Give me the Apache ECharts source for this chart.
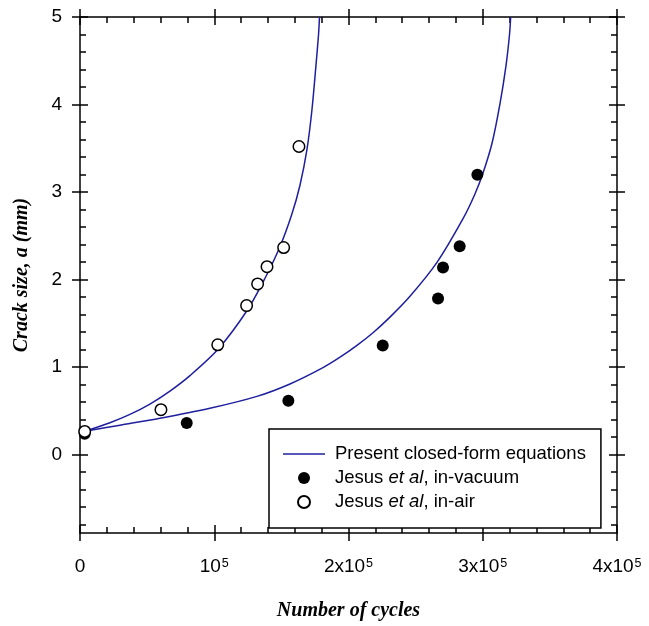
<!DOCTYPE html>
<html>
<head>
<meta charset="utf-8">
<script src="https://cdn.jsdelivr.net/npm/echarts@6/dist/echarts.min.js"></script>
<style>
html,body{margin:0;padding:0;background:#fff;}
#chart{width:649px;height:626px;}
</style>
</head>
<body>
<div id="chart"></div>
<script>
// ---- data ----
const xTicks = [0, 100000, 200000, 300000, 400000];
const xTickLabels = ['0', '10|5', '2x10|5', '3x10|5', '4x10|5'];
const yTicks = [0, 1, 2, 3, 4, 5];
const yTickLabels = ['0', '1', '2', '3', '4', '5'];
const yMinorTicks = [-0.8, -0.6, -0.4, -0.2, 0.2, 0.4, 0.6, 0.8, 1.2, 1.4, 1.6, 1.8,
  2.2, 2.4, 2.6, 2.8, 3.2, 3.4, 3.6, 3.8, 4.2, 4.4, 4.6, 4.8];

// closed-form curve, in-air
const fitAirN = [3700, 22300, 37200, 52100, 67000, 81900, 102600, 124200, 137800, 149000, 157900, 163900, 169100, 172800, 175800, 177650, 178400];
const fitAirA = [0.264, 0.361, 0.456, 0.574, 0.722, 0.899, 1.197, 1.638, 2.013, 2.376, 2.750, 3.079, 3.488, 3.942, 4.453, 4.794, 5.0];
// closed-form curve, in-vacuum
const fitVacN = [3700, 29800, 59600, 96800, 131800, 156400, 181000, 193700, 206300, 218250, 230900, 245800, 265900, 285300, 294200, 300200, 306900, 312850, 317300, 319900, 320800];
const fitVacA = [0.264, 0.333, 0.412, 0.526, 0.662, 0.804, 0.991, 1.110, 1.245, 1.390, 1.568, 1.806, 2.194, 2.694, 2.977, 3.216, 3.556, 4.010, 4.442, 4.794, 5.0];

// Jesus et al, in-vacuum
const vacN = [3500, 79500, 155200, 225500, 266700, 270400, 282800, 296000];
const vacA = [0.234, 0.359, 0.613, 1.244, 1.782, 2.137, 2.379, 3.196];
// Jesus et al, in-air
const airN = [3500, 60300, 102600, 124100, 132300, 139300, 151700, 163100];
const airA = [0.261, 0.510, 1.252, 1.700, 1.948, 2.145, 2.364, 3.519];

const lineName = 'Present closed-form equations';
const vacName = 'Jesus et al, in-vacuum';
const airName = 'Jesus et al, in-air';

// ---- chart ----
const zip = (a, b) => a.map((v, i) => [v, b[i]]);
const sans = '"Liberation Sans", Arial, sans-serif';
const serif = '"Liberation Serif", "Times New Roman", serif';
const black = '#000';
const lineW = 1.5;

function xLabel(v) {
  const i = xTicks.indexOf(v);
  if (i < 0) return '';
  const parts = xTickLabels[i].split('|');
  return parts.length > 1 ? '{n|' + parts[0] + '}{s|' + parts[1] + '}' : '{n|' + parts[0] + '}';
}
function yLabel(v) {
  const i = yTicks.findIndex(t => Math.abs(t - v) < 1e-9);
  return i < 0 ? '' : yTickLabels[i];
}

const xBase = {min: 0, max: 400000, interval: 100000, splitLine: {show: false}, gridIndex: 0};
const yBase = {min: -0.9, max: 5, splitLine: {show: false}, gridIndex: 0};
const lineStyle = {color: black, width: lineW};

const xAxes = [];
['bottom', 'top'].forEach(pos => {
  xAxes.push(Object.assign({}, xBase, {
    type: 'value', position: pos,
    axisLine: {show: true, onZero: false, lineStyle},
    axisTick: {show: true, inside: true, length: 8, lineStyle},
    minorTick: {show: true, splitNumber: 5, length: 6, lineStyle},
    axisLabel: pos === 'bottom' ? {
      show: true, margin: 24, formatter: xLabel,
      rich: {
        n: {fontFamily: sans, fontSize: 19, color: black, lineHeight: 20, verticalAlign: 'top'},
        s: {fontFamily: sans, fontSize: 12.5, color: black, lineHeight: 12, verticalAlign: 'top', padding: [0, 0, 0, 1]}
      }
    } : {show: false},
    name: pos === 'bottom' ? 'Number of cycles' : '',
    nameLocation: 'middle', nameGap: 68,
    nameTextStyle: {fontFamily: serif, fontSize: 20, fontWeight: 'bold', fontStyle: 'italic', color: black}
  }));
  xAxes.push(Object.assign({}, xBase, {
    type: 'value', position: pos,
    axisLine: {show: false, onZero: false},
    axisTick: {show: true, inside: false, length: 8, lineStyle},
    axisLabel: {show: false}
  }));
});

const yAxes = [];
['left', 'right'].forEach(pos => {
  yAxes.push(Object.assign({}, yBase, {
    type: 'value', position: pos,
    axisLine: {show: true, onZero: false, lineStyle},
    axisTick: {show: true, inside: true, length: 8, lineStyle, customValues: yTicks},
    axisLabel: pos === 'left' ? {
      show: true, margin: 18, customValues: yTicks, formatter: yLabel,
      fontFamily: sans, fontSize: 19, color: black
    } : {show: false},
    name: pos === 'left' ? 'Crack size, a (mm)' : '',
    nameLocation: 'middle', nameGap: 48,
    nameTextStyle: {fontFamily: serif, fontSize: 20, fontWeight: 'bold', fontStyle: 'italic', color: black}
  }));
  yAxes.push(Object.assign({}, yBase, {
    type: 'value', position: pos,
    axisLine: {show: false, onZero: false},
    axisTick: {show: true, inside: false, length: 8, lineStyle, customValues: yTicks},
    axisLabel: {show: false}
  }));
  yAxes.push(Object.assign({}, yBase, {
    type: 'value', position: pos,
    axisLine: {show: false, onZero: false},
    axisTick: {show: true, inside: true, length: 6, lineStyle, customValues: yMinorTicks},
    axisLabel: {show: false}
  }));
});

const curveColor = '#1f1f9e';
const chart = echarts.init(document.getElementById('chart'), null, {renderer: 'canvas'});
chart.setOption({
  animation: false,
  backgroundColor: '#fff',
  grid: {left: 80, right: 32, top: 17, bottom: 90, containLabel: false},
  xAxis: xAxes,
  yAxis: yAxes,
  legend: {
    orient: 'vertical', left: 269, top: 429,
    padding: [15, 15, 16, 14],
    itemWidth: 42, itemHeight: 12, itemGap: 4,
    borderColor: black, borderWidth: 1.5, backgroundColor: '#fff',
    textStyle: {fontFamily: sans, fontSize: 18.5, color: black, lineHeight: 20, padding: [0, 0, 0, 5],
      rich: {i: {fontFamily: sans, fontSize: 18.5, fontStyle: 'italic', color: black}}},
    formatter: name => name.replace('et al', '{i|et al}'),
    data: [
      {name: lineName, icon: 'path://M0,0H28V1H0Z', itemStyle: {color: curveColor}},
      {name: vacName, icon: 'circle'},
      {name: airName, icon: 'circle'}
    ]
  },
  series: [
    {name: lineName, type: 'line', data: zip(fitAirN, fitAirA), showSymbol: false, symbol: 'none',
      smooth: 0.3, lineStyle: {color: curveColor, width: 1.5}, itemStyle: {color: curveColor}, z: 2},
    {name: lineName, type: 'line', data: zip(fitVacN, fitVacA), showSymbol: false, symbol: 'none',
      smooth: 0.3, lineStyle: {color: curveColor, width: 1.5}, itemStyle: {color: curveColor}, z: 2},
    {name: vacName, type: 'scatter', data: zip(vacN, vacA), symbol: 'circle', symbolSize: 12,
      itemStyle: {color: black, opacity: 1}, z: 3},
    {name: airName, type: 'scatter', data: zip(airN, airA), symbol: 'circle', symbolSize: 11.5,
      itemStyle: {color: '#fff', borderColor: black, borderWidth: 1.5, opacity: 1}, z: 4}
  ]
});
</script>
</body>
</html>
